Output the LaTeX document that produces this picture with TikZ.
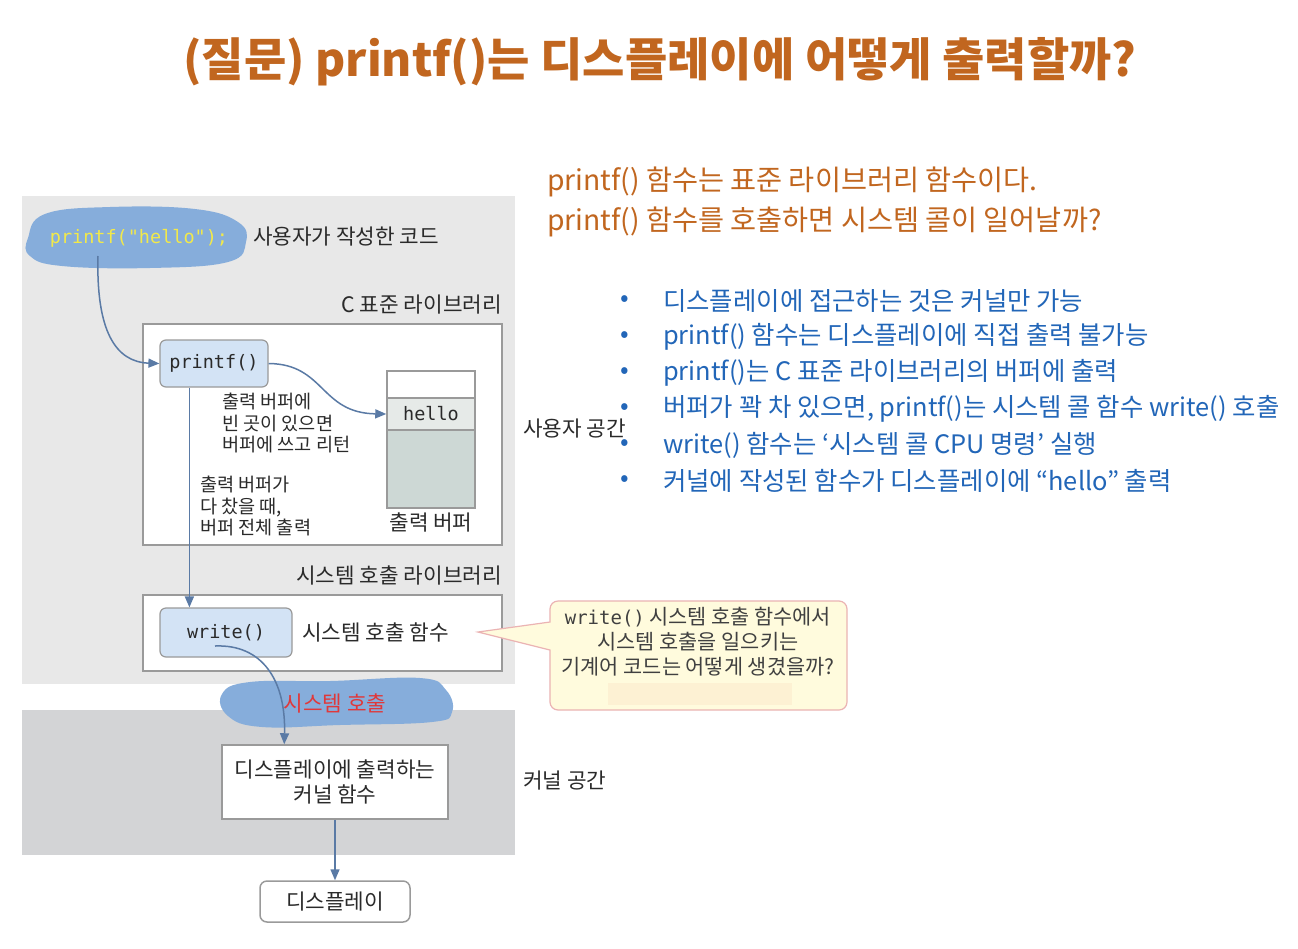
\documentclass[tikz,border=0pt]{standalone}
\usepackage{fontspec}
\setmainfont{Noto Sans CJK KR}
\setmonofont{DejaVu Sans Mono}
\usetikzlibrary{arrows.meta,calc}
\definecolor{titlec}{HTML}{C1661F}
\definecolor{bluet}{HTML}{2266B8}
\definecolor{arrc}{HTML}{5A7AA5}
\definecolor{upbg}{HTML}{E8E8E8}
\definecolor{lowbg}{HTML}{D3D4D6}
\definecolor{blobc}{HTML}{86ADDB}
\definecolor{fnfill}{HTML}{D3E3F5}
\definecolor{boxline}{HTML}{9A9A9A}
\definecolor{txt}{HTML}{2A2A2A}
\definecolor{callfill}{HTML}{FFFBDD}
\definecolor{callline}{HTML}{EBB3B3}
\definecolor{faint}{HTML}{FDF1D3}
\definecolor{codey}{HTML}{F2E94A}
\definecolor{redt}{HTML}{E0383A}
\definecolor{bufmid}{HTML}{E6EAE8}
\definecolor{bufbot}{HTML}{CDD8D5}
\tikzset{
  dtext/.style={text=txt, font=\fontsize{21.3}{25}\selectfont, inner sep=0pt},
  smalltext/.style={text=txt, font=\fontsize{18.6}{21.5}\selectfont, inner sep=0pt, anchor=north west, align=left},
  fnbox/.style={draw=boxline, line width=1.2pt, fill=fnfill, rounded corners=6pt, font=\ttfamily\fontsize{18.5}{22}\selectfont, text=txt, inner sep=0pt},
  plainbox/.style={draw=boxline, line width=1.5pt, fill=white, inner sep=0pt},
  arr/.style={draw=arrc, line width=1.5pt, -{Triangle[length=11pt,width=9pt]}},
  bullet/.style={text=bluet, font=\fontsize{25.4}{28}\selectfont, anchor=west, inner sep=0pt},
  sub/.style={text=titlec, font=\fontsize{28.3}{32}\selectfont, anchor=west, inner sep=0pt},
}
\begin{document}
\begin{tikzpicture}[x=1pt,y=-1pt]
\useasboundingbox (0,0) rectangle (1298,948);
\fill[white] (0,0) rectangle (1298,948);

% title
\node[text=titlec, font=\bfseries\fontsize{46}{50}\selectfont, inner sep=0pt] (title) at (660,62) {(질문) printf()는 디스플레이에 어떻게 출력할까?};

% subtitle
\node[sub] (s1) at (547,182) {printf() 함수는 표준 라이브러리 함수이다.};
\node[sub] (s2) at (547,222) {printf() 함수를 호출하면 시스템 콜이 일어날까?};

% bullets
\foreach \y/\t [count=\i] in {301/디스플레이에 접근하는 것은 커널만 가능,
  337/printf() 함수는 디스플레이에 직접 출력 불가능,
  373/printf()는 C 표준 라이브러리의 버퍼에 출력,
  409/{버퍼가 꽉 차 있으면, printf()는 시스템 콜 함수 write() 호출},
  445/write() 함수는 ‘시스템 콜 CPU 명령’ 실행,
  481/커널에 작성된 함수가 디스플레이에 “hello” 출력}{
  \node[bullet] (bd\i) at (620,\y) {•};
  \node[bullet] (bt\i) at (663,\y) {\t};
}

% regions
\fill[upbg] (22,196) rectangle (515,684);
\fill[lowbg] (22,710) rectangle (515,855);

% user code blob
\fill[blobc] plot[smooth cycle, tension=0.7] coordinates {(28,238) (45,214) (110,207) (195,209) (238,222) (246,242) (228,262) (150,268) (62,266) (30,256)};
\node[font=\ttfamily\fontsize{18.5}{22}\selectfont, text=codey, inner sep=0pt] (code) at (139,238) {printf("hello");};
\coordinate (c1) at (98,256);
\node[dtext, anchor=west] (ucode) at (253,237) {사용자가 작성한 코드};

% C standard library
\node[dtext, anchor=east] (clib) at (502,305) {C 표준 라이브러리};
\node[plainbox, minimum width=359pt, minimum height=221pt] (cbox) at (322.5,434.5) {};
\node[fnbox, minimum width=108pt, minimum height=47pt] (pf) at (214,363.5) {printf()};

% buffer
\node[plainbox, draw=boxline, minimum width=88pt, minimum height=27pt] (btop) at (431,384.5) {};
\node[plainbox, fill=bufmid, minimum width=88pt, minimum height=32pt, font=\ttfamily\fontsize{18.5}{22}\selectfont, text=txt] (bhello) at (431,414) {hello};
\node[plainbox, fill=bufbot, minimum width=88pt, minimum height=78pt] (bbot) at (431,469) {};
\node[dtext] (blabel) at (431,522) {출력 버퍼};

\node[smalltext] (t1) at (222,393) {출력 버퍼에\\빈 곳이 있으면\\버퍼에 쓰고 리턴};
\node[smalltext] (t2) at (200,476) {출력 버퍼가\\다 찼을 때,\\버퍼 전체 출력};

% system call library
\node[dtext, anchor=east] (slib) at (502,575) {시스템 호출 라이브러리};
\node[plainbox, minimum width=359pt, minimum height=76pt] (sbox) at (322.5,633) {};
\node[fnbox, minimum width=132pt, minimum height=49pt] (wr) at (226,632.5) {write()};
\node[dtext, anchor=west] (sfn) at (302,632) {시스템 호출 함수};
\coordinate (c2) at (215,646);

% side labels
\node[dtext, anchor=west] (ulabel) at (523,429) {사용자 공간};
\node[dtext, anchor=west] (klabel) at (523,781) {커널 공간};

% system call blob
\fill[blobc] plot[smooth cycle, tension=0.7] coordinates {(222,694) (250,682) (330,681) (420,678) (446,690) (452,712) (432,722) (340,725) (262,727) (228,716)};
\node[text=redt, font=\fontsize{21.3}{22}\selectfont, inner sep=0pt] (scall) at (335,703) {시스템 호출};

% kernel function
\node[plainbox, minimum width=226pt, minimum height=74pt, align=center, dtext, font=\fontsize{21.3}{25}\selectfont] (kf) at (335,782) {디스플레이에 출력하는\\커널 함수};
\node[plainbox, rounded corners=7pt, minimum width=150pt, minimum height=41pt, dtext] (disp) at (335,901.5) {디스플레이};

% callout
\filldraw[fill=callfill, draw=callline, line width=1.2pt] (478,632) -- (550,622) {[rounded corners=8pt] -- (550,601) -- (847,601) -- (847,710) -- (550,710)} -- (550,650) -- cycle;
\fill[faint] (608,683) rectangle (792,705);
\node[dtext, align=center, font=\fontsize{20.8}{25}\selectfont, text=black!75] (callt) at (698,642) {{\ttfamily\fontsize{19}{25}\selectfont write()} 시스템 호출 함수에서\\시스템 호출을 일으키는\\기계어 코드는 어떻게 생겼을까?};

% arrows
\draw[arr] (c1) .. controls (96,330) and (115,362) .. (pf.west);
\draw[arr] (pf.east) .. controls (325,364) and (320,413) .. (bhello.west);
\draw[arr] ($(pf.south west)+(30,0)$) -- ($(wr.north west)+(30,0)$);
\draw[arr] (c2) .. controls (262,644) and (286,680) .. ($(kf.north west)+(63,0)$);
\draw[arr] (kf.south) -- (disp.north);
\end{tikzpicture}
\end{document}
